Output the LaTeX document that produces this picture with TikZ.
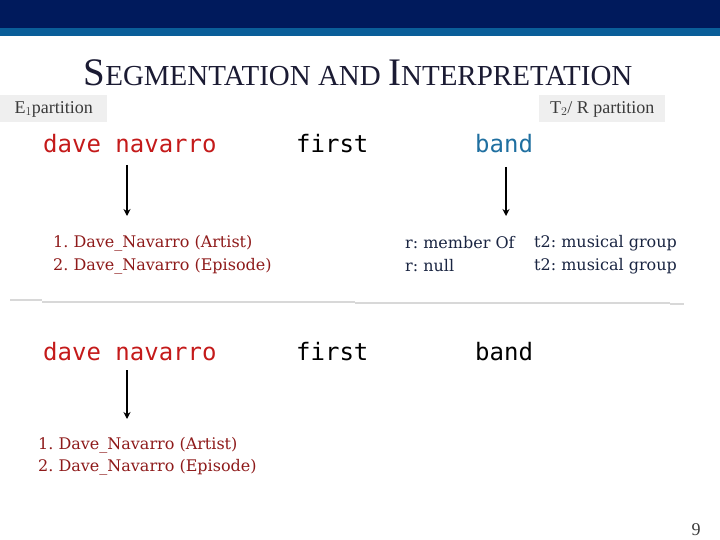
\documentclass[tikz,border=0pt]{standalone}
\usepackage{fontspec}
\setmainfont{Liberation Serif}
\setmonofont{DejaVu Sans Mono}
\newfontfamily\candfont{DejaVu Serif}
\usetikzlibrary{arrows.meta}
\definecolor{navybar}{HTML}{001A5C}
\definecolor{bluebar}{HTML}{0A5E99}
\definecolor{titlecol}{HTML}{1B1B33}
\definecolor{wordred}{HTML}{C41A1A}
\definecolor{wordblue}{HTML}{1F6FA0}
\definecolor{candred}{HTML}{8E1A1A}
\definecolor{candnavy}{HTML}{1A2542}
\definecolor{labelgray}{HTML}{EFEFEF}
\definecolor{labeltext}{HTML}{3A3A3A}
\definecolor{sepgray}{HTML}{D8D8D8}
\tikzset{
  word/.style={anchor=west, inner sep=0pt, font=\fontsize{24}{26}\selectfont\ttfamily},
  cand/.style={anchor=west, inner sep=0pt, font=\fontsize{16}{18}\selectfont\candfont},
  partlabel/.style={fill=labelgray, anchor=west, inner sep=0pt, minimum height=27pt, text=labeltext, font=\fontsize{18}{20}\selectfont},
  downarrow/.style={line width=1.8pt, -{Stealth[length=7pt,width=7pt]}},
  sepline/.style={draw=sepgray, line width=2pt}
}
\frenchspacing
\begin{document}
\begin{tikzpicture}[x=1pt,y=-1pt]
\useasboundingbox (0,0) rectangle (720,540);
% top bars
\fill[navybar] (0,0) rectangle (720,28);
\fill[bluebar] (0,28) rectangle (720,36);
% title
\node[anchor=center, inner sep=0pt, text=titlecol] (title) at (358,73)
  {\fontsize{39}{42}\selectfont S\fontsize{29}{31}\selectfont EGMENTATION AND \fontsize{39}{42}\selectfont I\fontsize{29}{31}\selectfont NTERPRETATION};
% partition labels
\node[partlabel, minimum width=107pt] (e1lab) at (0,109) {E$_{1}$partition};
\node[partlabel, minimum width=126pt] (t2lab) at (539,109) {T$_{2}$/ R partition};
% first row words
\node[word, text=wordred] (dn1) at (43,144) {dave navarro};
\node[word, text=black] (fi1) at (296,144) {first};
\node[word, text=wordblue] (ba1) at (475,144) {band};
% arrows
\coordinate (a1s) at (127,165);
\coordinate (a1e) at (127,216);
\coordinate (a2s) at (506,167);
\coordinate (a2e) at (506,216);
\draw[downarrow] (a1s) -- (a1e);
\draw[downarrow] (a2s) -- (a2e);
% candidates row 1
\node[cand, text=candred] (c11) at (53,243) {1. Dave\_Navarro (Artist)};
\node[cand, text=candred] (c12) at (53,266) {2. Dave\_Navarro (Episode)};
\node[cand, text=candnavy] (r1) at (405,243) {r: member Of};
\node[cand, text=candnavy] (r2) at (405,266) {r: null};
\node[cand, text=candnavy] (t1) at (534,243) {t2: musical group};
\node[cand, text=candnavy] (t2) at (534,266) {t2: musical group};
% separator
\coordinate (s0) at (10,300);
\coordinate (s1) at (42,300);
\coordinate (s2) at (42,302);
\coordinate (s3) at (355,302);
\coordinate (s4) at (355,303);
\coordinate (s5) at (670,303);
\coordinate (s6) at (670,304);
\coordinate (s7) at (684,304);
\draw[sepline] (s0) -- (s1);
\draw[sepline] (s2) -- (s3);
\draw[sepline] (s4) -- (s5);
\draw[sepline] (s6) -- (s7);
% second row words
\node[word, text=wordred] (dn2) at (43,352) {dave navarro};
\node[word, text=black] (fi2) at (296,352) {first};
\node[word, text=black] (ba2) at (475,352) {band};
\coordinate (a3s) at (127,370);
\coordinate (a3e) at (127,419);
\draw[downarrow] (a3s) -- (a3e);
\node[cand, text=candred] (c21) at (38,445) {1. Dave\_Navarro (Artist)};
\node[cand, text=candred] (c22) at (38,467) {2. Dave\_Navarro (Episode)};
% page number
\node[anchor=center, inner sep=0pt, text=labeltext, font=\fontsize{18}{20}\selectfont] (pg) at (696,530) {9};
\end{tikzpicture}
\end{document}
